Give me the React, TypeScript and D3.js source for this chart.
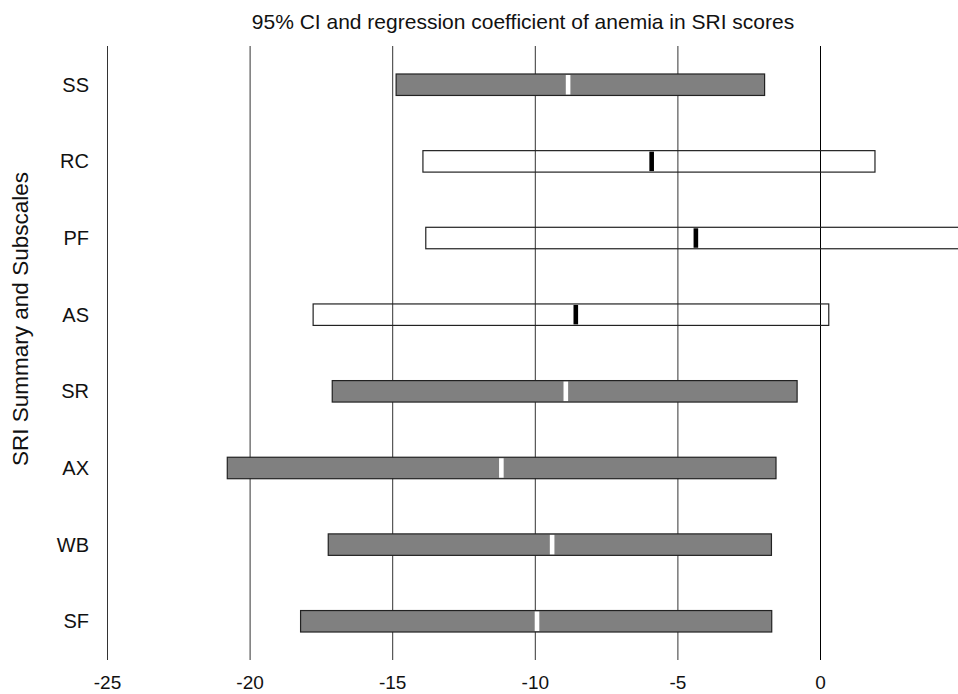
import React from "react";
import * as d3 from "d3";

const categories = ["SS", "RC", "PF", "AS", "SR", "AX", "WB", "SF"];
const lower = [-14.88, -13.94, -13.84, -17.79, -17.12, -20.8, -17.26, -18.23];
const upper = [-1.96, 1.91, 4.85, 0.29, -0.82, -1.56, -1.72, -1.71];
const coef = [-8.85, -5.92, -4.37, -8.58, -8.93, -11.19, -9.41, -9.94];
const significant = [true, false, false, false, true, true, true, true];
const xTicks = [-25, -20, -15, -10, -5, 0];

const width = 958;
const height = 694;
const font = "'Liberation Sans', Arial, sans-serif";

const App = () => {
  const x = d3.scaleLinear().domain([-25, 0]).range([107.5, 820.5]);
  const y = d3
    .scaleBand()
    .domain(categories)
    .range([46.4, 659.6])
    .paddingInner(0.72)
    .paddingOuter(0.36);
  const bw = y.bandwidth();
  const gridTop = 46;
  const gridBottom = 660;

  return (
    <svg
      width={width}
      height={height}
      style={{ position: "absolute", left: 0, top: 0, display: "block", background: "#fff" }}
    >
      <text x={523} y={29} textAnchor="middle" fontFamily={font} fontSize={21} fill="#111">
        95% CI and regression coefficient of anemia in SRI scores
      </text>

      {/* vertical reference lines */}
      {xTicks.map(t => (
        <line
          key={"g" + t}
          x1={x(t)}
          x2={x(t)}
          y1={gridTop}
          y2={gridBottom}
          stroke={t === 0 ? "#000" : "#333"}
          strokeWidth={1}
        />
      ))}

      {/* bars */}
      {categories.map((c, i) => {
        const x0 = x(lower[i]);
        const x1 = x(upper[i]);
        const yy = y(c) as number;
        const sig = significant[i];
        return (
          <g key={c}>
            <rect
              x={x0}
              y={yy}
              width={x1 - x0}
              height={bw}
              fill={sig ? "#808080" : "none"}
              stroke="#222"
              strokeWidth={1.2}
            />
            <rect
              x={x(coef[i]) - 2.3}
              y={yy + 1}
              width={4.6}
              height={bw - 2}
              fill={sig ? "#fff" : "#000"}
            />
          </g>
        );
      })}

      {/* category labels */}
      {categories.map(c => (
        <text
          key={"l" + c}
          x={89}
          y={(y(c) as number) + bw / 2}
          dy="0.35em"
          textAnchor="end"
          fontFamily={font}
          fontSize={20}
          fill="#111"
        >
          {c}
        </text>
      ))}

      {/* x tick labels */}
      {xTicks.map(t => (
        <text
          key={"t" + t}
          x={x(t)}
          y={689}
          textAnchor="middle"
          fontFamily={font}
          fontSize={19}
          fill="#111"
        >
          {t}
        </text>
      ))}

      <text
        transform={`translate(28,319) rotate(-90)`}
        textAnchor="middle"
        fontFamily={font}
        fontSize={22.5}
        fill="#111"
      >
        SRI Summary and Subscales
      </text>
    </svg>
  );
};

export default App;
